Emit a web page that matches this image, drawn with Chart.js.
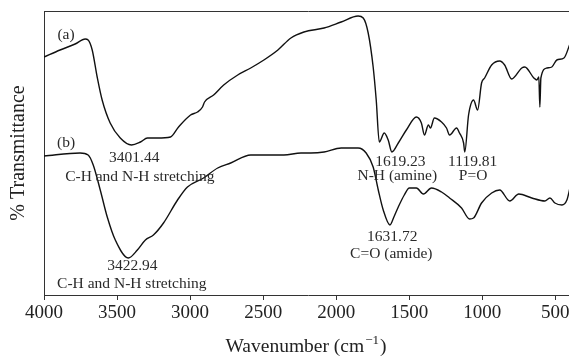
<!DOCTYPE html>
<html>
<head>
<meta charset="utf-8">
<script src="https://cdn.jsdelivr.net/npm/chart.js@4/dist/chart.umd.min.js"></script>
<style>
html,body{margin:0;padding:0;background:#fff;overflow:hidden;}
#wrap{position:relative;width:572px;height:360px;}
</style>
</head>
<body>
<div id="wrap"><canvas id="c"></canvas></div>
<script>
// Wavenumber ticks
const tickValues = [4000, 3500, 3000, 2500, 2000, 1500, 1000, 500];

// Spectrum (a)
const wnA = [4000,3890,3787,3718,3698,3670,3636,3602,3547,3478,3401,3340,3292,3224,3134,3079,2997,2949,2915,2901,2839,2770,2674,2585,2495,2399,2310,2221,2083,1966,1850,1815,1781,1747,1726,1705,1671,1644,1619,1575,1520,1451,1417,1396,1369,1355,1328,1279,1245,1224,1176,1156,1128,1120,1094,1060,1032,1005,984,936,881,847,799,730,709,647,627,613,606,599,558,524,490,441,400];
const tA  = [238,245,251,256,255,245,218,195,172,157,150,153,157,157,158,168,180,183,188,193,200,210,220,227,235,245,257,263,267,273,279,277,262,228,195,153,162,155,143,152,165,178,172,160,170,167,177,173,167,160,167,162,152,143,180,195,185,212,217,230,234,230,216,227,228,217,215,218,188,217,227,228,235,237,251];

// Spectrum (b)
const wnB = [4000,3753,3698,3663,3615,3567,3512,3423,3361,3306,3251,3182,3086,3018,2908,2811,2722,2585,2447,2358,2241,2173,2083,1966,1850,1795,1747,1712,1678,1632,1605,1575,1534,1499,1451,1403,1348,1279,1224,1142,1087,1060,1005,936,881,812,750,661,572,537,503,455,421,400];
const tB  = [139,142,140,130,105,78,55,37,45,55,60,72,95,108,117,127,132,140,140,140,142,142,143,147,147,142,128,105,85,70,78,88,100,107,107,101,107,103,97,87,76,77,92,102,105,94,101,97,94,97,92,90,95,107];

// Annotation texts with anchor points (wavenumber, transmittance units)
const noteTexts = ["(a)","(b)","3401.44","C-H and N-H stretching","3422.94","C-H and N-H stretching","1619.23","N-H (amine)","1119.81","P=O","1631.72","C=O (amide)"];
const noteWn    = [3849,3849,3382,3344,3395,3399,1561,1582,1066,1063,1616,1623];
const noteT     = [260,152,137,118,29,11,133,119,133,119,58,41];

// Axis titles
const xTitleMain = "Wavenumber (cm";
const xTitleSup = "−1";
const xTitleEnd = ")";
const yTitle = "% Transmittance";

const serif = "'Liberation Serif','DejaVu Serif',serif";

const framePlugin = {
  id:'frame',
  afterDraw(chart){
    const {ctx, chartArea:a, scales} = chart;
    ctx.save();
    ctx.strokeStyle = '#333';
    ctx.lineWidth = 1;
    ctx.beginPath();
    ctx.moveTo(a.left, a.top+0.5);
    ctx.lineTo(a.right+5, a.top+0.5);
    ctx.stroke();
    ctx.fillStyle = '#2a2a2a';
    ctx.font = "15.5px " + serif;
    ctx.textAlign = 'center';
    ctx.textBaseline = 'middle';
    for (let i=0;i<noteTexts.length;i++){
      const x = scales.x.getPixelForValue(noteWn[i]);
      const y = scales.y.getPixelForValue(noteT[i]);
      ctx.fillText(noteTexts[i], x, y);
    }
    // x title with superscript
    ctx.fillStyle = '#222';
    const mainF = "19.5px " + serif, supF = "13px " + serif;
    ctx.font = mainF; const w1 = ctx.measureText(xTitleMain).width; const w3 = ctx.measureText(xTitleEnd).width;
    ctx.font = supF; const w2 = ctx.measureText(xTitleSup).width + 2;
    const cx = (a.left + 568)/2;
    let x0 = cx - (w1+w2+w3)/2;
    const yb = 352;
    ctx.textAlign = 'left'; ctx.textBaseline = 'alphabetic';
    ctx.font = mainF; ctx.fillText(xTitleMain, x0, yb);
    ctx.font = supF; ctx.fillText(xTitleSup, x0 + w1 + 1, yb - 8);
    ctx.font = mainF; ctx.fillText(xTitleEnd, x0 + w1 + w2, yb);
    ctx.restore();
  }
};

new Chart(document.getElementById('c'), {
  type:'line',
  data:{
    datasets:[
      {label:'(a)', data: wnA.map((w,i)=>({x:w,y:tA[i]})), borderColor:'#111', borderWidth:1.4, pointRadius:0, cubicInterpolationMode:'monotone', fill:false},
      {label:'(b)', data: wnB.map((w,i)=>({x:w,y:tB[i]})), borderColor:'#111', borderWidth:1.4, pointRadius:0, cubicInterpolationMode:'monotone', fill:false}
    ]
  },
  options:{
    responsive:true,
    maintainAspectRatio:false,
    animation:false,
    layout:{padding:{top:11,right:0,left:0,bottom:0}},
    plugins:{legend:{display:false}, tooltip:{enabled:false}},
    scales:{
      x:{
        type:'linear', reverse:true, min:386, max:4000,
        afterBuildTicks:(s)=>{ s.ticks = tickValues.map(v=>({value:v})); },
        afterFit:(s)=>{ s.height = 65; },
        grid:{display:true, drawOnChartArea:false, drawTicks:true, tickLength:5, color:'#333'},
        border:{display:true, color:'#333', width:1},
        ticks:{font:{family:serif, size:19}, color:'#222', padding:2, maxRotation:0, autoSkip:false, callback:(v)=>String(v)},
        title:{display:false}
      },
      y:{
        type:'linear', min:0, max:284,
        afterFit:(s)=>{ s.width = 44; },
        grid:{display:false},
        border:{display:true, color:'#333', width:1},
        ticks:{display:false},
        title:{display:true, text:yTitle, font:{family:serif, size:20}, color:'#222', padding:{top:7,bottom:0}}
      }
    }
  },
  plugins:[framePlugin]
});
</script>
</body>
</html>
